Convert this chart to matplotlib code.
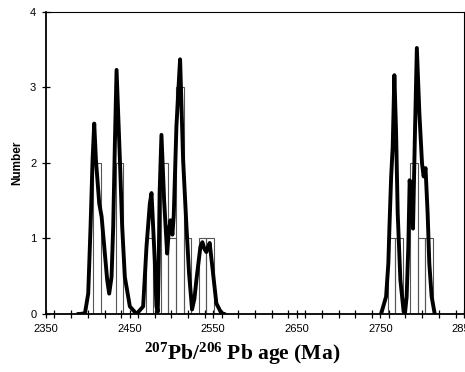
import matplotlib
matplotlib.use("Agg")
import matplotlib.pyplot as plt
from matplotlib.ticker import MultipleLocator

# ---- data ----
bin_width = 9.0
bin_left = [2406.5, 2433.5, 2469.5, 2487.5, 2496.5, 2505.5, 2514.5, 2532.5, 2541.5,
            2758.7, 2767.7, 2785.8, 2794.8, 2803.8]
bin_count = [2, 2, 1, 2, 1, 3, 1, 1, 1,
             1, 1, 2, 1, 1]

left_age = [2388.0, 2390.6, 2396.6, 2400.5, 2403.3, 2405.7, 2407.7, 2409.7, 2413.7, 2416.5,
            2420.4, 2423.2, 2425.6, 2428.4, 2430.4, 2432.4, 2434.4, 2438.4, 2441.1, 2444.3,
            2450.3, 2458.3, 2466.2, 2468.2, 2470.2, 2474.2, 2476.2, 2480.1, 2482.1, 2483.7,
            2484.9, 2485.9, 2488.1, 2491.3, 2494.9, 2496.9, 2498.9, 2501.2, 2502.8, 2506.0,
            2509.2, 2510.4, 2514.0, 2518.0, 2521.1, 2524.7, 2527.5, 2529.9, 2534.7, 2537.1,
            2539.5, 2541.8, 2544.2, 2545.8, 2549.8, 2553.8, 2559.8, 2563.7]
left_prob = [0.00, 0.00, 0.01, 0.27, 1.16, 2.04, 2.52, 2.04, 1.46, 1.29,
             0.80, 0.45, 0.27, 0.49, 1.16, 2.26, 3.23, 2.04, 1.16, 0.49,
             0.10, 0.00, 0.10, 0.49, 0.89, 1.46, 1.60, 0.71, 0.10, 0.03,
             0.71, 1.60, 2.37, 1.50, 0.80, 1.10, 1.24, 1.05, 1.30, 2.48,
             3.14, 3.37, 2.04, 1.16, 0.54, 0.06, 0.20, 0.45, 0.89, 0.95,
             0.86, 0.82, 0.90, 0.94, 0.54, 0.14, 0.01, 0.00]

right_age = [2750.8, 2756.8, 2759.5, 2760.7, 2762.8, 2764.7, 2766.7, 2768.7, 2770.7, 2773.9,
             2777.8, 2779.5, 2781.4, 2783.4, 2785.0, 2787.4, 2789.0, 2791.4, 2793.6, 2796.6,
             2799.8, 2801.7, 2804.0, 2806.5, 2808.5, 2811.3, 2815.0]
right_prob = [0.00, 0.23, 0.67, 1.11, 1.80, 2.21, 3.16, 2.43, 1.33, 0.45,
              0.03, 0.02, 0.23, 0.89, 1.77, 1.46, 1.13, 2.43, 3.52, 2.66,
              1.99, 1.82, 1.93, 1.33, 0.67, 0.23, 0.00]

x_ticks = [2350, 2450, 2550, 2650, 2750, 2850]
y_ticks = [0, 1, 2, 3, 4]

plt.rcParams['mathtext.fontset'] = 'custom'
plt.rcParams['mathtext.rm'] = 'Liberation Serif:bold'
plt.rcParams['mathtext.bf'] = 'Liberation Serif:bold'
plt.rcParams['mathtext.default'] = 'bf'

fig = plt.figure(figsize=(4.65, 3.72), dpi=100)
ax = fig.add_axes([46/465, 1-314/372, 418/465, (314-11.7)/372])

ax.bar(bin_left, bin_count, width=bin_width, align='edge', fill=False,
       edgecolor='#555555', linewidth=0.8, zorder=2)
ax.plot(left_age, left_prob, color='black', lw=2.8, solid_joinstyle='round',
        solid_capstyle='round', zorder=3)
ax.plot(right_age, right_prob, color='black', lw=2.8, solid_joinstyle='round',
        solid_capstyle='round', zorder=3)

ax.set_xlim(2350, 2850)
ax.set_ylim(0, 4)
ax.set_xticks(x_ticks)
ax.xaxis.set_minor_locator(MultipleLocator(20))
ax.set_yticks(y_ticks)
ax.tick_params(axis='both', which='both', direction='inout', length=6, width=0.9,
               labelsize=8, colors='black')
ax.tick_params(axis='x', which='both', pad=4)
ax.tick_params(axis='y', pad=4)
for lab in ax.get_xticklabels() + ax.get_yticklabels():
    lab.set_fontfamily('Liberation Sans')

for s in ['left', 'bottom']:
    ax.spines[s].set_linewidth(1.3)
for s in ['top', 'right']:
    ax.spines[s].set_linewidth(0.8)

ax.set_ylabel('Number', fontsize=8.5, fontweight='bold', family='Liberation Sans')
ax.yaxis.set_label_coords(-(46-23.5)/418, 0.5)

fig.text(242/465, 1-354/372, r'$^{207}$Pb/$^{206}$ Pb age (Ma)', ha='center', va='center',
         fontsize=15.5, fontweight='bold', family='Liberation Serif')

fig.savefig('out.png', dpi=100)
